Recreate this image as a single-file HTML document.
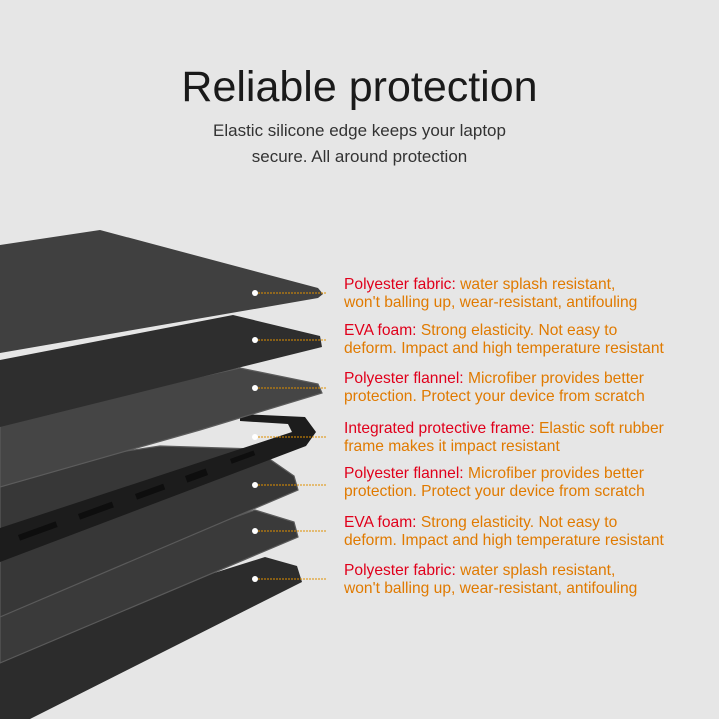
<!DOCTYPE html>
<html><head><meta charset="utf-8"><style>
body{margin:0;width:719px;height:719px;background:#e6e6e6;position:relative;overflow:hidden;font-family:"Liberation Sans",sans-serif}
h1{position:absolute;top:63px;left:0;width:719px;text-align:center;margin:0;font-weight:normal;font-size:43px;color:#1a1a1a}
.sub{position:absolute;top:118px;left:0;width:719px;text-align:center;font-size:17px;line-height:26px;color:#333}
.l{position:absolute;left:344px;font-size:15.6px;line-height:18px;color:#e07a00;white-space:nowrap}
.l b{font-weight:normal;color:#e0001b}
</style></head><body>
<h1>Reliable protection</h1>
<div class="sub">Elastic silicone edge keeps your laptop<br>secure. All around protection</div>
<svg width="719" height="719" style="position:absolute;left:0;top:0">
<!-- layer 7 -->
<polygon points="0,640 265,557 297,566 302,582 30,719 0,719" fill="#2c2c2c"/>
<!-- layer 6 -->
<polygon points="0,600 255,510 294,522 298,537 0,663" fill="#3a3a3a" stroke="#5a5a5a" stroke-width="1.2"/>
<!-- layer 5 -->
<polygon points="0,470 160,446 255,449 294,476 298,490 0,617" fill="#373737" stroke="#5a5a5a" stroke-width="1.2"/>
<!-- frame rim -->
<polygon points="240,414 305,417 316,432 306,446 0,562 0,528 292,432 288,424 240,421" fill="#1c1c1c"/>
<g fill="#0e0e0e"><rect x="18" y="535" width="40" height="6" transform="rotate(-20 18 535)"/><rect x="78" y="514" width="36" height="6" transform="rotate(-20 78 514)"/><rect x="135" y="494" width="30" height="6" transform="rotate(-20 135 494)"/><rect x="185" y="476" width="22" height="7" transform="rotate(-20 185 476)"/><rect x="230" y="459" width="25" height="5" transform="rotate(-20 230 459)"/></g>
<!-- layer 3 -->
<polygon points="0,420 240,368 318,384 322,393 200,430 0,487" fill="#454545" stroke="#5c5c5c" stroke-width="1.2"/>
<!-- layer 2 -->
<polygon points="0,360 233,315 320,336 322,347 0,427" fill="#2e2e2e"/>
<!-- layer 1 -->
<polygon points="0,245 100,230 318,288 323,294 318,298 0,353" fill="#404040"/>
<g fill="#fff"><circle cx="255" cy="293" r="3"/><circle cx="255" cy="340" r="3"/><circle cx="255" cy="388" r="3"/><circle cx="255" cy="437" r="3"/><circle cx="255" cy="485" r="3"/><circle cx="255" cy="531" r="3"/><circle cx="255" cy="579" r="3"/></g>
<g stroke="#e09000" stroke-dasharray="2,1" stroke-width="1"><line x1="258" y1="293" x2="326" y2="293"/><line x1="258" y1="340" x2="326" y2="340"/><line x1="258" y1="388" x2="326" y2="388"/><line x1="258" y1="437" x2="326" y2="437"/><line x1="258" y1="485" x2="326" y2="485"/><line x1="258" y1="531" x2="326" y2="531"/><line x1="258" y1="579" x2="326" y2="579"/></g>
</svg>
<div class="l" style="top:276px"><b>Polyester fabric:</b> water splash resistant,<br>won't balling up, wear-resistant, antifouling</div>
<div class="l" style="top:322px"><b>EVA foam:</b> Strong elasticity. Not easy to<br>deform. Impact and high temperature resistant</div>
<div class="l" style="top:370px"><b>Polyester flannel:</b> Microfiber provides better<br>protection. Protect your device from scratch</div>
<div class="l" style="top:420px"><b>Integrated protective frame:</b> Elastic soft rubber<br>frame makes it impact resistant</div>
<div class="l" style="top:465px"><b>Polyester flannel:</b> Microfiber provides better<br>protection. Protect your device from scratch</div>
<div class="l" style="top:514px"><b>EVA foam:</b> Strong elasticity. Not easy to<br>deform. Impact and high temperature resistant</div>
<div class="l" style="top:562px"><b>Polyester fabric:</b> water splash resistant,<br>won't balling up, wear-resistant, antifouling</div>
</body></html>
